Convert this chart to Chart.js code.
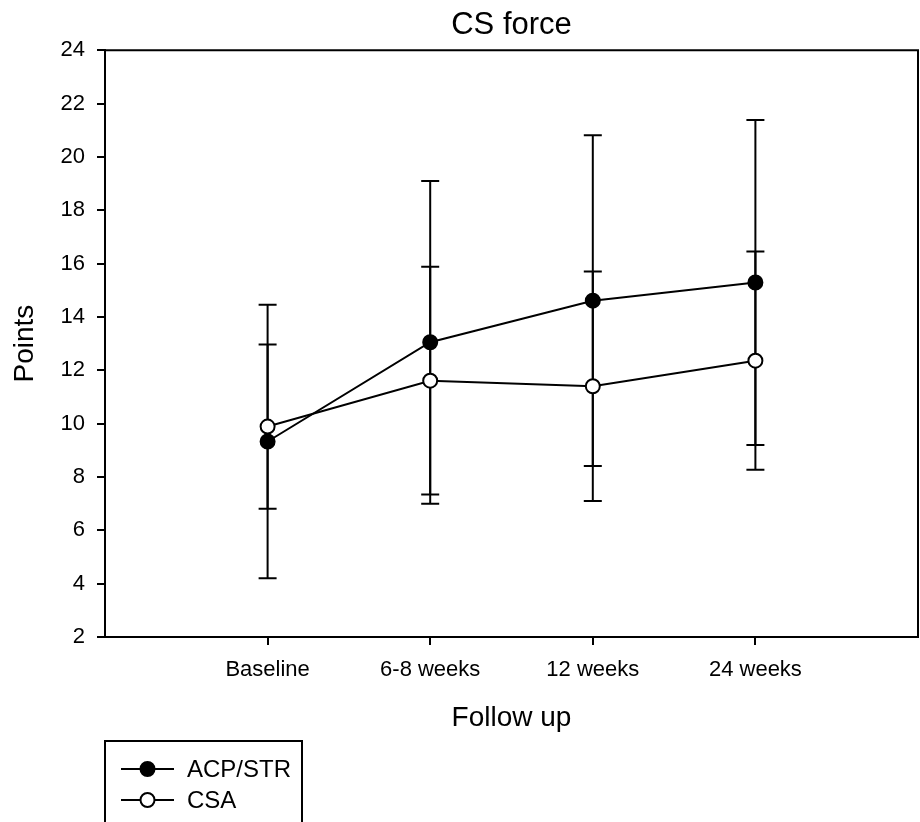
<!DOCTYPE html>
<html>
<head>
<meta charset="utf-8">
<title>CS force</title>
<script src="https://cdn.jsdelivr.net/npm/chart.js@4.4.1/dist/chart.umd.min.js"></script>
<style>
  html, body { margin: 0; padding: 0; background: #fff; }
  canvas { display: block; }
</style>
</head>
<body>
<canvas id="chart" width="920" height="822"></canvas>
<script>
// values (mean +/- SD)
var categories = ['Baseline', '6-8 weeks', '12 weeks', '24 weeks'];
var acpMean = [9.33, 13.05, 14.61, 15.29];
var acpSd = [5.13, 6.05, 6.20, 6.09];
var csaMean = [9.89, 11.61, 11.40, 12.36];
var csaSd = [3.08, 4.27, 4.30, 4.09];

var FONT = 'Arial, "Liberation Sans", sans-serif';
Chart.defaults.font.family = FONT;
Chart.defaults.color = '#000';

function points(means){
  return means.map(function(m, i){ return {x: i + 1, y: m}; });
}

// vertical error bars with caps, drawn under the markers
var errorBars = {
  id: 'errorBars',
  beforeDatasetsDraw: function(chart){
    var ctx = chart.ctx, xs = chart.scales.x, ys = chart.scales.y;
    ctx.save();
    ctx.strokeStyle = '#000';
    ctx.lineWidth = 2;
    chart.data.datasets.forEach(function(ds){
      ds.data.forEach(function(p, i){
        var x = xs.getPixelForValue(p.x);
        var yt = ys.getPixelForValue(p.y + ds.sd[i]);
        var yb = ys.getPixelForValue(p.y - ds.sd[i]);
        ctx.beginPath();
        ctx.moveTo(x, yt); ctx.lineTo(x, yb);
        ctx.moveTo(x - 9, yt); ctx.lineTo(x + 9, yt);
        ctx.moveTo(x - 9, yb); ctx.lineTo(x + 9, yb);
        ctx.stroke();
      });
    });
    ctx.restore();
  }
};

// closes the plot box and draws the boxed legend under the axis
var frameAndLegend = {
  id: 'frameAndLegend',
  afterDraw: function(chart){
    var ctx = chart.ctx, a = chart.chartArea;
    ctx.save();
    ctx.strokeStyle = '#000';
    ctx.lineWidth = 2;
    ctx.beginPath();
    ctx.moveTo(a.left, a.top); ctx.lineTo(a.right, a.top); ctx.lineTo(a.right, a.bottom);
    ctx.stroke();

    var lx = 105, ly = 741, lw = 197;
    ctx.beginPath();
    ctx.moveTo(lx, chart.height + 2); ctx.lineTo(lx, ly);
    ctx.lineTo(lx + lw, ly); ctx.lineTo(lx + lw, chart.height + 2);
    ctx.stroke();

    chart.data.datasets.forEach(function(ds, i){
      var y = 769 + i * 31;
      ctx.lineWidth = 2;
      ctx.beginPath();
      ctx.moveTo(121, y); ctx.lineTo(174, y);
      ctx.stroke();
      ctx.beginPath();
      ctx.arc(147.5, y, 7, 0, Math.PI * 2);
      ctx.fillStyle = ds.pointBackgroundColor;
      ctx.fill();
      ctx.stroke();
      ctx.fillStyle = '#000';
      ctx.font = '24px ' + FONT;
      ctx.textBaseline = 'middle';
      ctx.textAlign = 'left';
      ctx.fillText(ds.label, 187, y + 1);
    });
    ctx.restore();
  }
};

var ctx = document.getElementById('chart').getContext('2d');
window.csForceChart = new Chart(ctx, {
  type: 'line',
  data: {
    datasets: [{
      label: 'ACP/STR',
      data: points(acpMean),
      sd: acpSd,
      borderColor: '#000',
      borderWidth: 2,
      pointRadius: 7,
      pointBorderWidth: 2,
      pointBorderColor: '#000',
      pointBackgroundColor: '#000',
      tension: 0
    }, {
      label: 'CSA',
      data: points(csaMean),
      sd: csaSd,
      borderColor: '#000',
      borderWidth: 2,
      pointRadius: 7,
      pointBorderWidth: 2,
      pointBorderColor: '#000',
      pointBackgroundColor: '#fff',
      tension: 0
    }]
  },
  options: {
    responsive: false,
    animation: false,
    layout: {
      autoPadding: false,
      padding: {left: 0, right: 2, top: 0, bottom: 80}
    },
    plugins: {
      legend: {display: false},
      tooltip: {enabled: false},
      title: {
        display: true,
        fullSize: false,
        text: 'CS force',
        color: '#000',
        font: {size: 31, weight: 'normal'},
        padding: {top: 7, bottom: 6}
      }
    },
    scales: {
      x: {
        type: 'linear',
        min: 0,
        max: 5,
        afterBuildTicks: function(scale){
          scale.ticks = categories.map(function(c, i){ return {value: i + 1}; });
        },
        afterFit: function(scale){ scale.height = 105; },
        ticks: {
          autoSkip: false,
          maxRotation: 0,
          padding: 12,
          font: {size: 22},
          color: '#000',
          callback: function(v){ return categories[v - 1] || ''; }
        },
        grid: {
          display: true,
          drawOnChartArea: false,
          drawTicks: true,
          tickLength: 8,
          color: '#000',
          lineWidth: 2
        },
        border: {display: true, color: '#000', width: 2},
        title: {
          display: true,
          text: 'Follow up',
          color: '#000',
          font: {size: 28},
          padding: {top: 0, bottom: 7}
        }
      },
      y: {
        min: 2,
        max: 24,
        afterFit: function(scale){ scale.width = 105; },
        ticks: {
          stepSize: 2,
          padding: 12,
          font: {size: 22},
          color: '#000'
        },
        grid: {
          display: true,
          drawOnChartArea: false,
          drawTicks: true,
          tickLength: 8,
          color: '#000',
          lineWidth: 2
        },
        border: {display: true, color: '#000', width: 2},
        title: {
          display: true,
          text: 'Points',
          color: '#000',
          font: {size: 28},
          padding: {top: 8, bottom: 0}
        }
      }
    }
  },
  plugins: [errorBars, frameAndLegend]
});
</script>
</body>
</html>
